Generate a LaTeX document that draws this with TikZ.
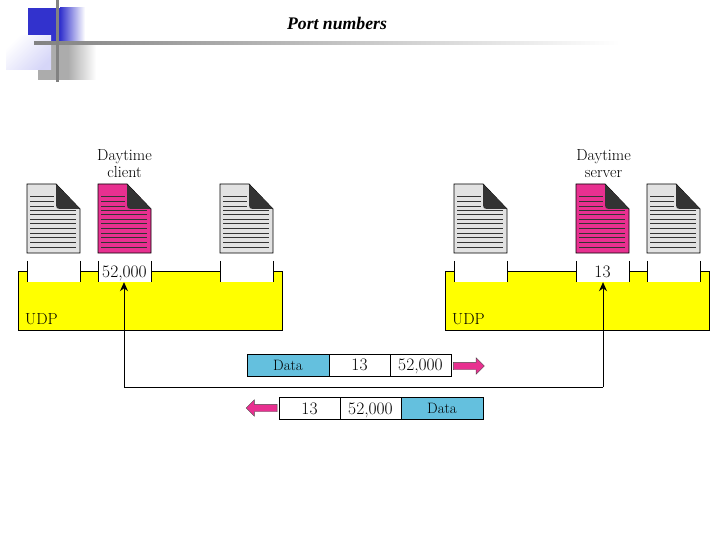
\documentclass[tikz,border=0pt]{standalone}
\usepackage{fontspec}
\newfontfamily\titlefont{Liberation Serif}
\usetikzlibrary{shapes.arrows, arrows.meta}
\definecolor{udpyellow}{RGB}{255,255,0}
\definecolor{docpink}{RGB}{232,48,144}
\definecolor{docgray}{RGB}{226,226,226}
\definecolor{datablue}{RGB}{100,192,222}
\definecolor{logoblue}{RGB}{50,50,205}
\definecolor{logolilac}{RGB}{214,214,248}
\definecolor{logogray}{RGB}{172,172,172}
\definecolor{logoline}{RGB}{130,130,130}

\tikzset{
    label_text/.style={font=\fontsize{16}{17}\selectfont, inner sep=0pt},
    num_text/.style={font=\fontsize{17.5}{18}\selectfont, text depth=0pt},
    udp_box/.style={draw, semithick, fill=udpyellow, minimum width=264pt, minimum height=59pt, inner sep=0pt},
    port_box/.style={fill=white, minimum width=53pt, minimum height=21pt, inner sep=0pt, num_text},
    cell/.style={draw, thick, minimum height=22pt, inner sep=0pt, num_text},
    data_cell/.style={cell, fill=datablue, minimum width=82pt, font=\fontsize{15}{15}\selectfont},
    num_cell/.style={cell, fill=white, minimum width=61pt},
    packet_arrow/.style={single arrow, draw=black!70, fill=docpink, thin, minimum height=31pt, minimum width=16pt,
        single arrow head extend=4.5pt, inner sep=3.5pt},
    document/.pic={
        \fill[#1, draw=black, thick] (0,0) -- (29,0) -- (53,25) -- (53,69) -- (0,69) -- cycle;
        \fill[black!80] (29,0) -- (53,25) -- (33,25) .. controls (30,25) and (29,24) .. (29,21) -- cycle;
        \foreach \y in {12,17,22} \draw[black!80, thin] (3,\y) -- (27,\y);
        \foreach \y in {26,30,35,39,44,49,53,58,63} \draw[black!80, thin] (3,\y) -- (49,\y);
    }
}

\begin{document}
\begin{tikzpicture}[x=1pt, y=-1pt]
    \useasboundingbox (0,0) rectangle (720,540);

    % corner decoration
    \fill[logoblue] (28,8) rectangle (60,41);
    \shade[left color=logoblue, right color=white] (60,8) rectangle (85,41);
    \fill[logogray] (38,45) rectangle (68,80);
    \shade[left color=logogray, right color=white] (68,45) rectangle (96,80);
    \shade[left color=white, right color=logolilac, shading angle=45] (6,36) rectangle (51,70);
    \shade[left color=logoline, right color=white] (34,41.5) rectangle (620,44.5);
    \fill[logoline] (55.5,0) rectangle (58.5,82);
    \node[font=\titlefont\bfseries\itshape\fontsize{17.7}{18}\selectfont, inner sep=0pt] (title) at (337,23) {Port numbers};

    % udp boxes
    \node[udp_box] (udp_client) at (150,300.5) {};
    \node[udp_box] (udp_server) at (577.5,300.5) {};
    \node[label_text, anchor=west] (udp_client_text) at (25,319) {UDP};
    \node[label_text, anchor=west] (udp_server_text) at (452,319) {UDP};

    % documents
    \pic at (27,184) {document=docgray};
    \pic at (98,184) {document=docpink};
    \pic at (220,184) {document=docgray};
    \pic at (454,184) {document=docgray};
    \pic at (576,184) {document=docpink};
    \pic at (647,184) {document=docgray};

    \node[label_text, align=center] (client) at (124.5,164) {Daytime\\client};
    \node[label_text, align=center] (server) at (603.5,164) {Daytime\\server};

    % ports
    \node[port_box] (c1) at (53.5,271.5) {};
    \node[port_box] (c2) at (124.5,271.5) {52,000};
    \node[port_box] (c3) at (246.5,271.5) {};
    \node[port_box] (s1) at (480.5,271.5) {};
    \node[port_box] (s2) at (602.5,271.5) {13};
    \node[port_box] (s3) at (673.5,271.5) {};
    \foreach \p in {c1,c2,c3,s1,s2,s3} {
        \draw[semithick] (\p.north west) -- (\p.south west);
        \draw[semithick] (\p.north east) -- (\p.south east);
    }

    % path between the ports
    \coordinate (bend_c) at (124,387);
    \coordinate (bend_s) at (603,387);
    \draw[-{Stealth[length=9pt,width=8pt]}, thick] (bend_c) -- (c2.south -| bend_c);
    \draw[-{Stealth[length=9pt,width=8pt]}, thick] (bend_s) -- (s2.south -| bend_s);
    \draw[thick] (bend_c) -- (bend_s);

    % packets
    \node[data_cell] (d1) at (288,365) {Data};
    \node[num_cell] (d2) at (359.5,365) {13};
    \node[num_cell] (d3) at (420.5,365) {52,000};
    \node[packet_arrow] (out) at (467,366) {};

    \node[num_cell] (r1) at (309.5,408.5) {13};
    \node[num_cell] (r2) at (370.5,408.5) {52,000};
    \node[data_cell] (r3) at (442,408.5) {Data};
    \node[packet_arrow, shape border rotate=180] (back) at (263.5,408) {};
\end{tikzpicture}
\end{document}
